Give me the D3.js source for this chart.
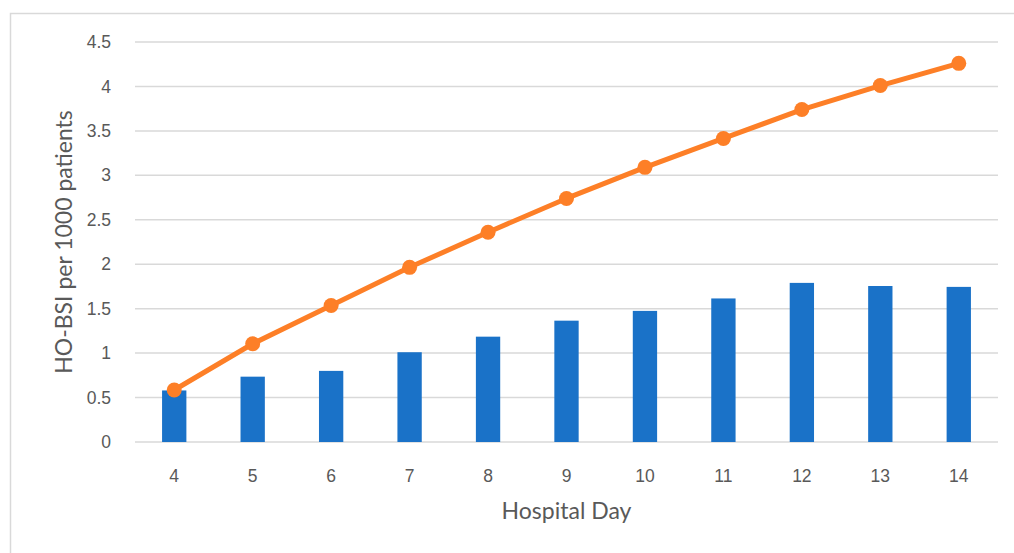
<!DOCTYPE html>
<html>
<head>
<meta charset="utf-8">
<script src="https://cdn.jsdelivr.net/npm/d3@7"></script>
<style>
  html, body { margin: 0; padding: 0; background: #fff; }
  svg { display: block; font-family: Lato, "Open Sans", sans-serif; }
</style>
</head>
<body>
<svg id="chart" width="1014" height="553"></svg>
<script>
// Hospital day categories and HO-BSI rates per 1000 patients
const days = [4, 5, 6, 7, 8, 9, 10, 11, 12, 13, 14];
const dailyRate = [0.58, 0.735, 0.80, 1.01, 1.185, 1.365, 1.475, 1.615, 1.79, 1.755, 1.745];
const cumulativeRate = [0.585, 1.105, 1.535, 1.965, 2.36, 2.74, 3.09, 3.415, 3.74, 4.01, 4.26];
const yTicks = [0, 0.5, 1, 1.5, 2, 2.5, 3, 3.5, 4, 4.5];

const svg = d3.select("#chart");
const margin = { left: 135, right: 16, top: 42, bottom: 111 };
const W = 1014, H = 553;
const plotW = W - margin.left - margin.right;
const plotH = H - margin.top - margin.bottom;
const tickSize = 17.5;
const titleSize = 23;

// Chart frame
svg.append("rect")
  .attr("x", 10.5).attr("y", 13.5)
  .attr("width", W).attr("height", H)
  .attr("fill", "none").attr("stroke", "#d9d9d9").attr("stroke-width", 1.5);

const g = svg.append("g").attr("transform", `translate(${margin.left},${margin.top})`);

const x = d3.scaleBand().domain(days).range([0, plotW]).paddingInner(0.69).paddingOuter(0.345);
const y = d3.scaleLinear().domain([0, 4.5]).range([plotH, 0]);

// Gridlines
g.append("g")
  .selectAll("line")
  .data(yTicks)
  .join("line")
  .attr("x1", 0).attr("x2", plotW)
  .attr("y1", d => y(d)).attr("y2", d => y(d))
  .attr("stroke", "#d9d9d9").attr("stroke-width", 1.5);

// Y axis labels
const yAxis = g.append("g")
  .call(d3.axisLeft(y).tickValues(yTicks).tickSize(0).tickPadding(24).tickFormat(d => String(d)));
yAxis.select(".domain").remove();
yAxis.selectAll("text").attr("fill", "#595959").attr("font-size", tickSize);

// X axis labels
const xAxis = g.append("g")
  .attr("transform", `translate(0,${plotH})`)
  .call(d3.axisBottom(x).tickSize(0));
xAxis.select(".domain").remove();
xAxis.selectAll("text")
  .attr("dy", null)
  .attr("y", 40)
  .attr("fill", "#595959")
  .attr("font-size", tickSize);

// Bars: daily rate
g.append("g")
  .selectAll("rect")
  .data(days.map((d, i) => ({ day: d, v: dailyRate[i] })))
  .join("rect")
  .attr("x", d => x(d.day))
  .attr("width", x.bandwidth())
  .attr("y", d => y(d.v))
  .attr("height", d => plotH - y(d.v))
  .attr("fill", "#1a72c8");

// Line: cumulative rate
const pts = days.map((d, i) => ({ day: d, v: cumulativeRate[i] }));
const cx = d => x(d.day) + x.bandwidth() / 2;
g.append("path")
  .datum(pts)
  .attr("fill", "none")
  .attr("stroke", "#fd7f27")
  .attr("stroke-width", 5)
  .attr("stroke-linejoin", "round")
  .attr("d", d3.line().x(cx).y(d => y(d.v)));

g.append("g")
  .selectAll("circle")
  .data(pts)
  .join("circle")
  .attr("cx", cx)
  .attr("cy", d => y(d.v))
  .attr("r", 7.5)
  .attr("fill", "#fd7f27");

// Axis titles
svg.append("text")
  .attr("x", margin.left + plotW / 2)
  .attr("y", 519)
  .attr("text-anchor", "middle")
  .attr("fill", "#595959")
  .attr("font-size", titleSize)
  .text("Hospital Day");

svg.append("text")
  .attr("transform", `translate(72,${margin.top + plotH / 2}) rotate(-90)`)
  .attr("text-anchor", "middle")
  .attr("fill", "#595959")
  .attr("font-size", titleSize)
  .text("HO-BSI per 1000 patients");
</script>
</body>
</html>
